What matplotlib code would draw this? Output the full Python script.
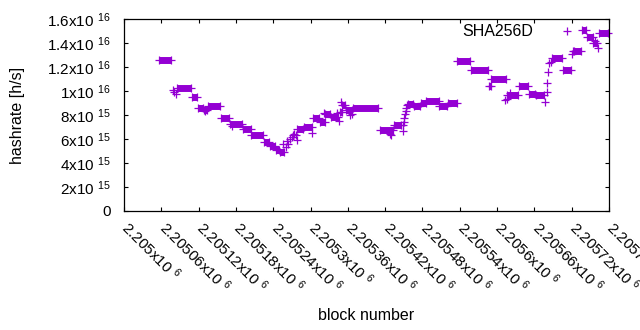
import numpy as np
import matplotlib
matplotlib.use("Agg")
import matplotlib.pyplot as plt
from matplotlib.lines import Line2D
from matplotlib.transforms import ScaledTranslation

plt.rcParams['font.family'] = ['Liberation Sans', 'DejaVu Sans']
plt.rcParams['mathtext.fontset'] = 'custom'
plt.rcParams['mathtext.rm'] = 'Liberation Sans'
plt.rcParams['mathtext.it'] = 'Liberation Sans:italic'
plt.rcParams['mathtext.bf'] = 'Liberation Sans:bold'

# ---- data: runs of consecutive blocks with the same estimated hashrate ----
run_start = [2205057, 2205085, 2205109, 2205119, 2205128, 2205135, 2205156, 2205170,
             2205191, 2205205, 2205225, 2205235, 2205244, 2205251, 2205279, 2205289,
             2205304, 2205315, 2205324, 2205333, 2205347, 2205351, 2205357, 2205368,
             2205411, 2205434, 2205456, 2205466, 2205477, 2205486, 2205507, 2205521,
             2205536, 2205558, 2205587, 2205591, 2205616, 2205635, 2205651, 2205662,
             2205688, 2205706, 2205724, 2205736, 2205744, 2205755, 2205764]
run_end = [2205076, 2205107, 2205118, 2205127, 2205134, 2205155, 2205169, 2205189,
           2205204, 2205224, 2205234, 2205243, 2205250, 2205258, 2205288, 2205303,
           2205314, 2205323, 2205332, 2205344, 2205350, 2205356, 2205367, 2205409,
           2205433, 2205446, 2205465, 2205476, 2205485, 2205506, 2205520, 2205535,
           2205557, 2205586, 2205590, 2205615, 2205634, 2205650, 2205661, 2205676,
           2205704, 2205719, 2205735, 2205743, 2205754, 2205761, 2205779]
run_value = [12.55e15, 10.22e15, 9.47e15, 8.62e15, 8.45e15, 8.79e15, 7.71e15, 7.28e15,
             6.81e15, 6.31e15, 5.75e15, 5.42e15, 5.12e15, 4.95e15, 6.80e15, 7.03e15,
             7.72e15, 7.44e15, 8.08e15, 7.86e15, 8.25e15, 8.85e15, 8.42e15, 8.62e15,
             6.75e15, 7.20e15, 8.92e15, 8.75e15, 9.00e15, 9.17e15, 8.72e15, 9.03e15,
             12.50e15, 11.71e15, 10.40e15, 10.96e15, 9.67e15, 10.39e15, 9.78e15, 9.63e15,
             12.79e15, 11.71e15, 13.37e15, 15.12e15, 14.50e15, 14.00e15, 14.85e15]

# ---- data: isolated blocks ----
pt_block = [2205079, 2205081, 2205084, 2205131, 2205174,
            2205256, 2205260, 2205262, 2205264, 2205267, 2205270, 2205272, 2205274,
            2205276, 2205278, 2205302, 2205321, 2205343, 2205345, 2205349, 2205363,
            2205366, 2205427, 2205430, 2205448, 2205449, 2205450, 2205451, 2205452,
            2205453, 2205454, 2205455, 2205613, 2205616, 2205621, 2205677, 2205680,
            2205681, 2205682, 2205684, 2205686, 2205720, 2205722, 2205757, 2205763]
pt_value = [10.08e15, 9.95e15, 9.79e15, 8.35e15, 7.10e15,
            5.60e15, 5.35e15, 5.80e15, 5.55e15, 6.00e15, 6.20e15, 6.35e15, 6.45e15,
            6.30e15, 5.90e15, 6.53e15, 8.14e15, 8.15e15, 7.53e15, 9.05e15, 8.00e15,
            8.05e15, 6.45e15, 6.35e15, 6.67e15, 7.15e15, 7.45e15, 7.75e15, 8.10e15,
            8.35e15, 8.60e15, 8.80e15, 9.25e15, 9.30e15, 9.80e15, 9.10e15, 9.94e15,
            10.70e15, 11.60e15, 12.30e15, 12.44e15, 13.10e15, 13.30e15, 14.20e15, 13.56e15]

xticks = [2205000 + 60 * k for k in range(14)]
xtick_labels = ["2.205x10 $^{6}$", "2.20506x10 $^{6}$", "2.20512x10 $^{6}$", "2.20518x10 $^{6}$",
                "2.20524x10 $^{6}$", "2.2053x10 $^{6}$", "2.20536x10 $^{6}$", "2.20542x10 $^{6}$",
                "2.20548x10 $^{6}$", "2.20554x10 $^{6}$", "2.2056x10 $^{6}$", "2.20566x10 $^{6}$",
                "2.20572x10 $^{6}$", "2.20578x10 $^{6}$"]
yticks = [0, 2e15, 4e15, 6e15, 8e15, 1e16, 1.2e16, 1.4e16, 1.6e16]
ytick_labels = ["0", "2x10 $^{15}$", "4x10 $^{15}$", "6x10 $^{15}$", "8x10 $^{15}$",
                "1x10 $^{16}$", "1.2x10 $^{16}$", "1.4x10 $^{16}$", "1.6x10 $^{16}$"]

color = '#9400D3'
fs_tick = 11
fs_lab = 11.5
ms = 5.2
mew = 0.9

fig = plt.figure(figsize=(6.4, 3.3), dpi=100)
ax = fig.add_axes([124 / 640, 119 / 330, 485 / 640, 192 / 330])

ax.hlines(run_value, run_start, run_end, colors=color, linewidth=5.0, capstyle='butt')
ax.plot(run_start, run_value, '+', color=color, ms=ms, mew=mew, clip_on=False)
ax.plot(run_end, run_value, '+', color=color, ms=ms, mew=mew, clip_on=False)
ax.plot(pt_block, pt_value, '+', color=color, ms=ms, mew=mew, clip_on=False)

ax.set_xlim(2205000, 2205780)
ax.set_ylim(0, 1.6e16)
ax.set_xticks(xticks)
ax.set_xticklabels(xtick_labels, rotation=-45, ha='left', va='baseline',
                   rotation_mode='anchor', fontsize=fs_tick)
ax.set_yticks(yticks)
ax.set_yticklabels(ytick_labels, fontsize=fs_tick)
ax.tick_params(direction='in', length=3.2, width=0.8, top=True, right=True)
ax.tick_params(axis='y', pad=9.5)
ax.tick_params(axis='x', pad=13)
for s in ax.spines.values():
    s.set_linewidth(0.9)

shift = ScaledTranslation(-3.5 / 100, 0, fig.dpi_scale_trans)
for lbl in ax.get_xticklabels():
    lbl.set_transform(lbl.get_transform() + shift)

ax.set_xlabel("block number", fontsize=fs_lab, va='center')
ax.set_ylabel("hashrate [h/s]", fontsize=fs_lab, va='center')
ax.xaxis.set_label_coords(0.5, -(315 - 211) / 192)
ax.yaxis.set_label_coords((17.5 - 124) / 485, 0.5)

handle = Line2D([], [], linestyle='none', marker='+', color=color, ms=ms, mew=mew)
fig.legend([handle], ["SHA256D"], loc='center right', bbox_to_anchor=(583 / 640, (330 - 32) / 330),
           frameon=False, markerfirst=False, handlelength=2.0, handletextpad=1.1,
           borderpad=0, borderaxespad=0, fontsize=fs_lab)

fig.savefig("out.png", dpi=100)
